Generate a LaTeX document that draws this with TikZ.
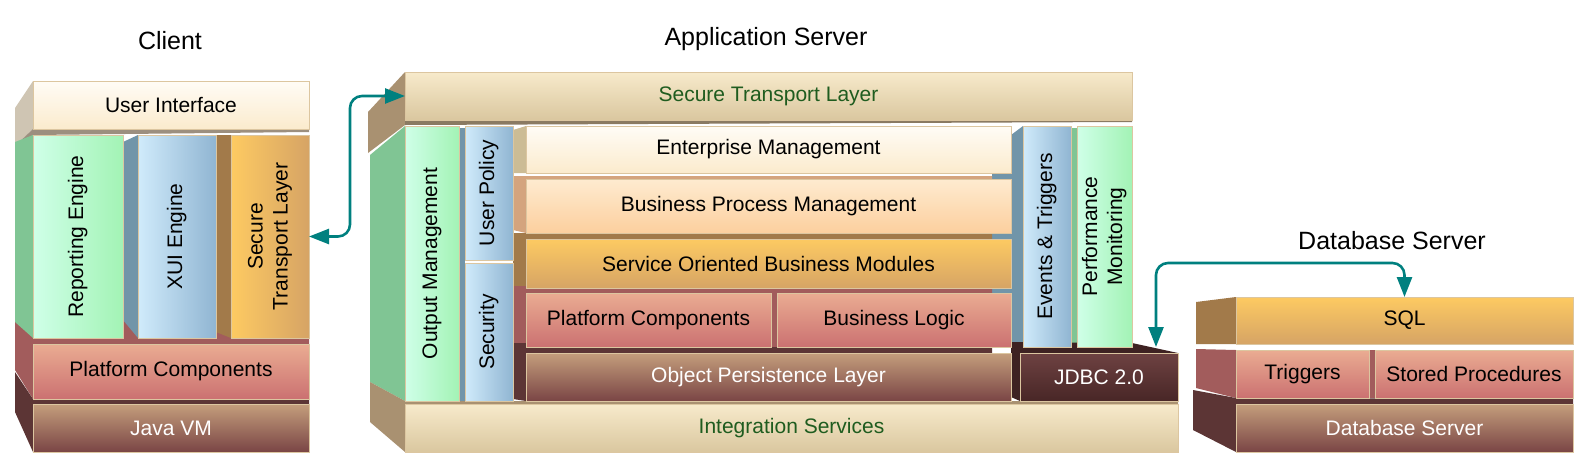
\documentclass[tikz,border=0pt]{standalone}
\usepackage{fontspec}
\setmainfont{Liberation Sans}
\usetikzlibrary{arrows.meta}
% front colours
\definecolor{creamT}{HTML}{FFFCF6}\definecolor{creamB}{HTML}{FBEBCD}
\definecolor{peachT}{HTML}{FEEBD0}\definecolor{peachB}{HTML}{FCCF9E}
\definecolor{oranT}{HTML}{FDCA62}\definecolor{oranB}{HTML}{D6A465}
\definecolor{redT}{HTML}{EAAC92}\definecolor{redB}{HTML}{CB7171}
\definecolor{brnT}{HTML}{C49E7C}\definecolor{brnB}{HTML}{7A4545}
\definecolor{tanT}{HTML}{F7EACB}\definecolor{tanB}{HTML}{DAC79F}
\definecolor{grnL}{HTML}{CFFFE8}\definecolor{grnR}{HTML}{A3F3B5}
\definecolor{bluL}{HTML}{D0EBFB}\definecolor{bluR}{HTML}{90B5D2}
\definecolor{drkT}{HTML}{6E4242}\definecolor{drkB}{HTML}{482626}
% side colours
\definecolor{uiS}{HTML}{CFC5B3}\definecolor{uiU}{HTML}{9C8F7F}
\definecolor{grnS}{HTML}{80C594}\definecolor{bluS}{HTML}{7195A9}
\definecolor{oranS}{HTML}{A27A4A}\definecolor{redS}{HTML}{A25C5C}
\definecolor{brnS}{HTML}{5C3535}\definecolor{tanS}{HTML}{A99171}
\definecolor{tanU}{HTML}{8A7A62}\definecolor{creamS}{HTML}{CCBC95}
\definecolor{peachS}{HTML}{D4A47E}\definecolor{drkS}{HTML}{3E2222}
\definecolor{faceline}{HTML}{DCC6A0}\definecolor{labelgreen}{HTML}{1F5C1F}
\definecolor{linkteal}{HTML}{00807F}
\newcommand{\vlabel}[1]{\rotatebox{90}{\begin{tabular}{@{}c@{}}#1\end{tabular}}}
\tikzset{face/.style={inner sep=0pt, outer sep=0pt, align=center, font=\fontsize{21}{25}\selectfont, draw=faceline, line width=0.4pt},
creamslab/.style={face, top color=creamT, bottom color=creamB},
peachslab/.style={face, top color=peachT, bottom color=peachB},
orangeslab/.style={face, top color=oranT, bottom color=oranB},
orangecol/.style={face, left color=oranT, right color=oranB},
redslab/.style={face, top color=redT, bottom color=redB},
brownslab/.style={face, top color=brnT, bottom color=brnB, text=white},
tanslab/.style={face, top color=tanT, bottom color=tanB, text=labelgreen},
greencol/.style={face, left color=grnL, right color=grnR},
bluecol/.style={face, left color=bluL, right color=bluR},
darkslab/.style={face, top color=drkT, bottom color=drkB, text=white},
title/.style={font=\fontsize{25}{30}\selectfont},
link/.style={draw=linkteal, line width=2.6pt, rounded corners=12pt, {Triangle[length=20pt,width=15pt]}-{Triangle[length=20pt,width=15pt]}}}

\begin{document}
\begin{tikzpicture}[x=1pt,y=-1pt]
\useasboundingbox (0,0) rectangle (1590,472);
% titles
\node[title] (tclient) at (170,41) {Client};
\node[title] (tapp) at (766,39) {Application Server};
\node[title] (tdb) at (1392,241) {Database Server};
% client sides
\fill[redS] (15,318) -- (309,318) -- (309,344) -- (33,344) -- (33,399) -- (15,370) -- cycle;
\fill[brnS] (15,372) -- (33,399) -- (309,399) -- (309,404) -- (33,404) -- (33,452) -- (15,412) -- cycle;
\fill[uiS] (33,81) -- (15,108) -- (15,146) -- (33,129) -- cycle;
\fill[uiU] (15,146) -- (33,129) -- (309,129) -- (309,132) -- (33,135) -- cycle;
\fill[grnS] (15,142) -- (33,135) -- (33,338) -- (15,322) -- cycle;
\fill[bluS] (123,142) -- (138,135) -- (138,338) -- (123,320) -- cycle;
\fill[oranS] (216,135) -- (231,135) -- (231,338) -- (216,332) -- cycle;
% client fronts
\node[creamslab, minimum width=276pt, minimum height=48pt] (ui) at (171,105) {User Interface};
\node[greencol, minimum width=90pt, minimum height=203pt] (rep) at (78,236.5) {\vlabel{Reporting Engine}};
\node[bluecol, minimum width=78pt, minimum height=203pt] (xui) at (177,236.5) {\vlabel{XUI Engine}};
\node[orangecol, minimum width=78pt, minimum height=203pt] (cstl) at (270,236.5) {\vlabel{Secure\\Transport Layer}};
\node[redslab, minimum width=276pt, minimum height=55pt] (cpc) at (171,371.5) {Platform Components};
\node[brownslab, minimum width=276pt, minimum height=48pt] (jvm) at (171,428) {Java VM};
% application server sides
\fill[tanS] (405,72) -- (368,112) -- (368,153) -- (405,125) -- cycle;
\fill[tanU] (405,120) -- (1132,120) -- (1132,122) -- (405,125) -- cycle;
\fill[grnS] (370,155) -- (405,126) -- (405,401) -- (370,382) -- cycle;
\fill[bluS] (459,128) rectangle (465,401);
\fill[bluS] (992,173) rectangle (1011,347);
\fill[bluS] (1011,135) -- (1023,126) -- (1023,347) -- (1011,342) -- cycle;
\fill[grnS] (1071,128) rectangle (1077,347);
\fill[creamS] (513,130) -- (526,126) -- (526,173) -- (513,173) -- cycle;
\fill[peachS] (513,176) -- (992,176) -- (992,179) -- (526,179) -- (526,233) -- (513,230) -- cycle;
\fill[oranS] (513,233) -- (992,234) -- (992,239) -- (526,239) -- (526,288) -- (513,286) -- cycle;
\fill[redS] (513,286) -- (992,288) -- (992,293) -- (526,293) -- (526,347) -- (513,343) -- cycle;
\fill[brnS] (513,343) -- (992,347) -- (992,353) -- (526,353) -- (526,401) -- (513,399) -- cycle;
\fill[redS] (771,293) rectangle (777,347);
\fill[drkS] (1011,342) -- (1132,343) -- (1178,353) -- (1020,353) -- (1020,401) -- (1011,397) -- cycle;
\fill[tanS] (370,382) -- (405,401) -- (1178,401) -- (1178,404) -- (405,404) -- (405,452) -- (370,422) -- cycle;
% application server fronts
\node[tanslab, minimum width=727pt, minimum height=48pt] (astl) at (768.5,96) {Secure Transport Layer};
\node[greencol, minimum width=54pt, minimum height=275pt] (out) at (432,263.5) {\vlabel{Output Management}};
\node[bluecol, minimum width=48pt, minimum height=134pt] (upol) at (489,193) {\vlabel{User Policy}};
\node[bluecol, minimum width=48pt, minimum height=138pt] (sec) at (489,332) {\vlabel{Security}};
\node[creamslab, minimum width=485pt, minimum height=47pt] (em) at (768.5,149.5) {Enterprise Management};
\node[peachslab, minimum width=485pt, minimum height=54pt] (bpm) at (768.5,206) {Business Process Management};
\node[orangeslab, minimum width=485pt, minimum height=49pt] (sobm) at (768.5,263.5) {Service Oriented Business Modules};
\node[redslab, minimum width=245pt, minimum height=54pt] (apc) at (648.5,320) {Platform Components};
\node[redslab, minimum width=234pt, minimum height=54pt] (blogic) at (894,320) {Business Logic};
\node[brownslab, minimum width=485pt, minimum height=48pt] (opl) at (768.5,377) {Object Persistence Layer};
\node[bluecol, minimum width=48pt, minimum height=221pt] (evt) at (1047,236.5) {\vlabel{Events \& Triggers}};
\node[greencol, minimum width=55pt, minimum height=221pt] (perf) at (1104.5,236.5) {\vlabel{Performance\\Monitoring}};
\node[darkslab, minimum width=158pt, minimum height=48pt] (jdbc) at (1099,377) {JDBC 2.0};
\node[tanslab, minimum width=773pt, minimum height=48pt] (ints) at (791.5,428) {Integration Services};
% database server sides
\fill[oranS] (1196,302) -- (1236,297) -- (1236,344) -- (1196,344) -- cycle;
\fill[redS] (1196,349) -- (1236,350) -- (1236,398) -- (1196,388) -- cycle;
\fill[brnS] (1193,390) -- (1236,398) -- (1573,399) -- (1573,404) -- (1236,404) -- (1236,452) -- (1193,430) -- cycle;
\fill[redS] (1369,350) rectangle (1375,398);
% database server fronts
\node[orangeslab, minimum width=337pt, minimum height=47pt] (sql) at (1404.5,320.5) {SQL};
\node[redslab, minimum width=133pt, minimum height=48pt] (trig) at (1302.5,374) {Triggers};
\node[redslab, minimum width=198pt, minimum height=48pt] (stproc) at (1474,374) {Stored Procedures};
\node[brownslab, minimum width=337pt, minimum height=48pt] (dbs) at (1404.5,428) {Database Server};
% links
\coordinate (cbend) at (350,170);
\draw[link] (cstl.east) -| (cbend) |- (astl.west);
\coordinate (jtop) at (1156,347);
\coordinate (dbend) at (1280,263);
\draw[link] (jtop) |- (dbend) -| (sql.north);
\end{tikzpicture}
\end{document}
